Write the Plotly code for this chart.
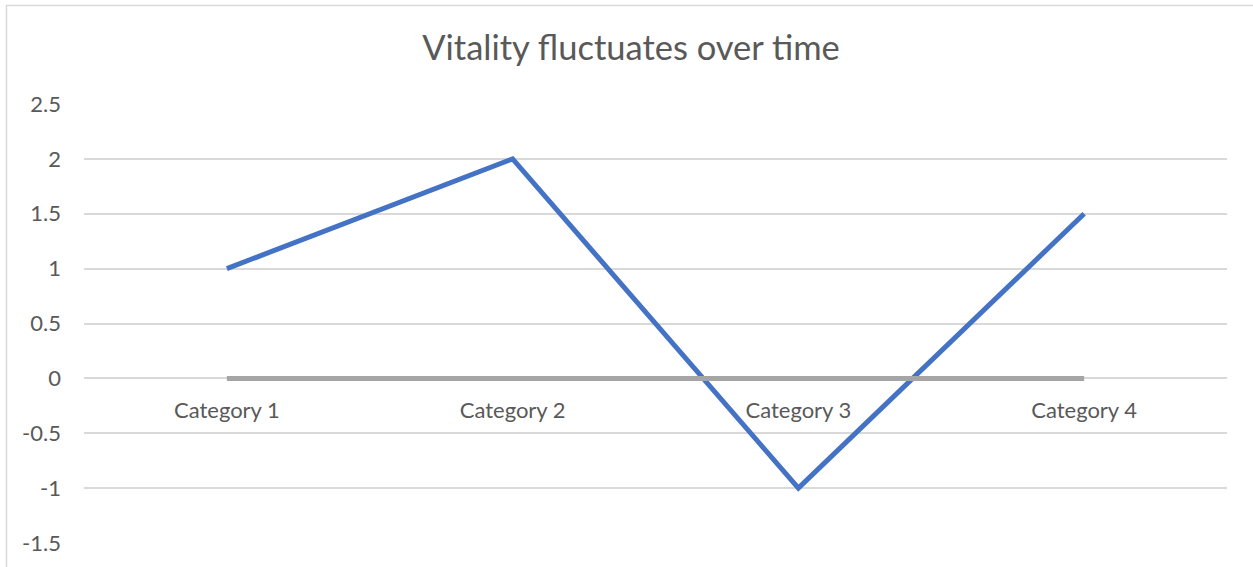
import plotly.graph_objects as go

categories = ["Category 1", "Category 2", "Category 3", "Category 4"]
series1 = [1, 2, -1, 1.5]
series2 = [0, 0, 0, 0]
y_ticks = [-1.5, -1, -0.5, 0, 0.5, 1, 1.5, 2, 2.5]
title_text = "Vitality fluctuates over time"

FONT = "Lato"
TXT = "#595959"

fig = go.Figure()
fig.add_trace(go.Scatter(x=categories, y=series1, mode="lines",
                         line=dict(color="#4472C4", width=5), name="Series 1"))
fig.add_trace(go.Scatter(x=categories, y=series2, mode="lines",
                         line=dict(color="#A5A5A5", width=5), name="Series 2"))

W, H = 1253, 567
L, R, T, B = 84, 26, 104, 24
ph = H - T - B
pw = W - L - R

fig.update_layout(
    width=W, height=H,
    margin=dict(l=L, r=R, t=T, b=B),
    paper_bgcolor="white", plot_bgcolor="white",
    showlegend=False,
    font=dict(family=FONT, color=TXT, size=22),
    title=dict(text=title_text, x=631 / W, xanchor="center", xref="container",
               y=1 - 48 / H, yref="container", yanchor="middle",
               font=dict(family=FONT, size=34.5, color=TXT)),
    xaxis=dict(type="category", range=[-0.5, 3.5], showgrid=False, zeroline=False,
               showline=False, anchor="free", position=1.5 / 4, ticks="",
               ticklabelstandoff=17, tickfont=dict(size=22, color=TXT, family=FONT)),
    yaxis=dict(range=[-1.5, 2.5], tickvals=y_ticks, ticktext=[f"{v:g}" for v in y_ticks],
               showgrid=True, gridcolor="#D9D9D9", gridwidth=1.5, zeroline=False,
               showline=False, ticks="", ticklabelstandoff=22,
               tickfont=dict(size=22, color=TXT, family=FONT)),
    shapes=[dict(type="rect", xref="paper", yref="paper",
                 x0=(6.5 - L) / pw, x1=1.2, y0=-0.3, y1=(H - B - 5.5) / ph,
                 line=dict(color="#D9D9D9", width=1.5), fillcolor="rgba(0,0,0,0)",
                 layer="below")],
)

fig.write_html("out.html", config={"displayModeBar": False},
               post_script="document.body.style.margin='0px';")
